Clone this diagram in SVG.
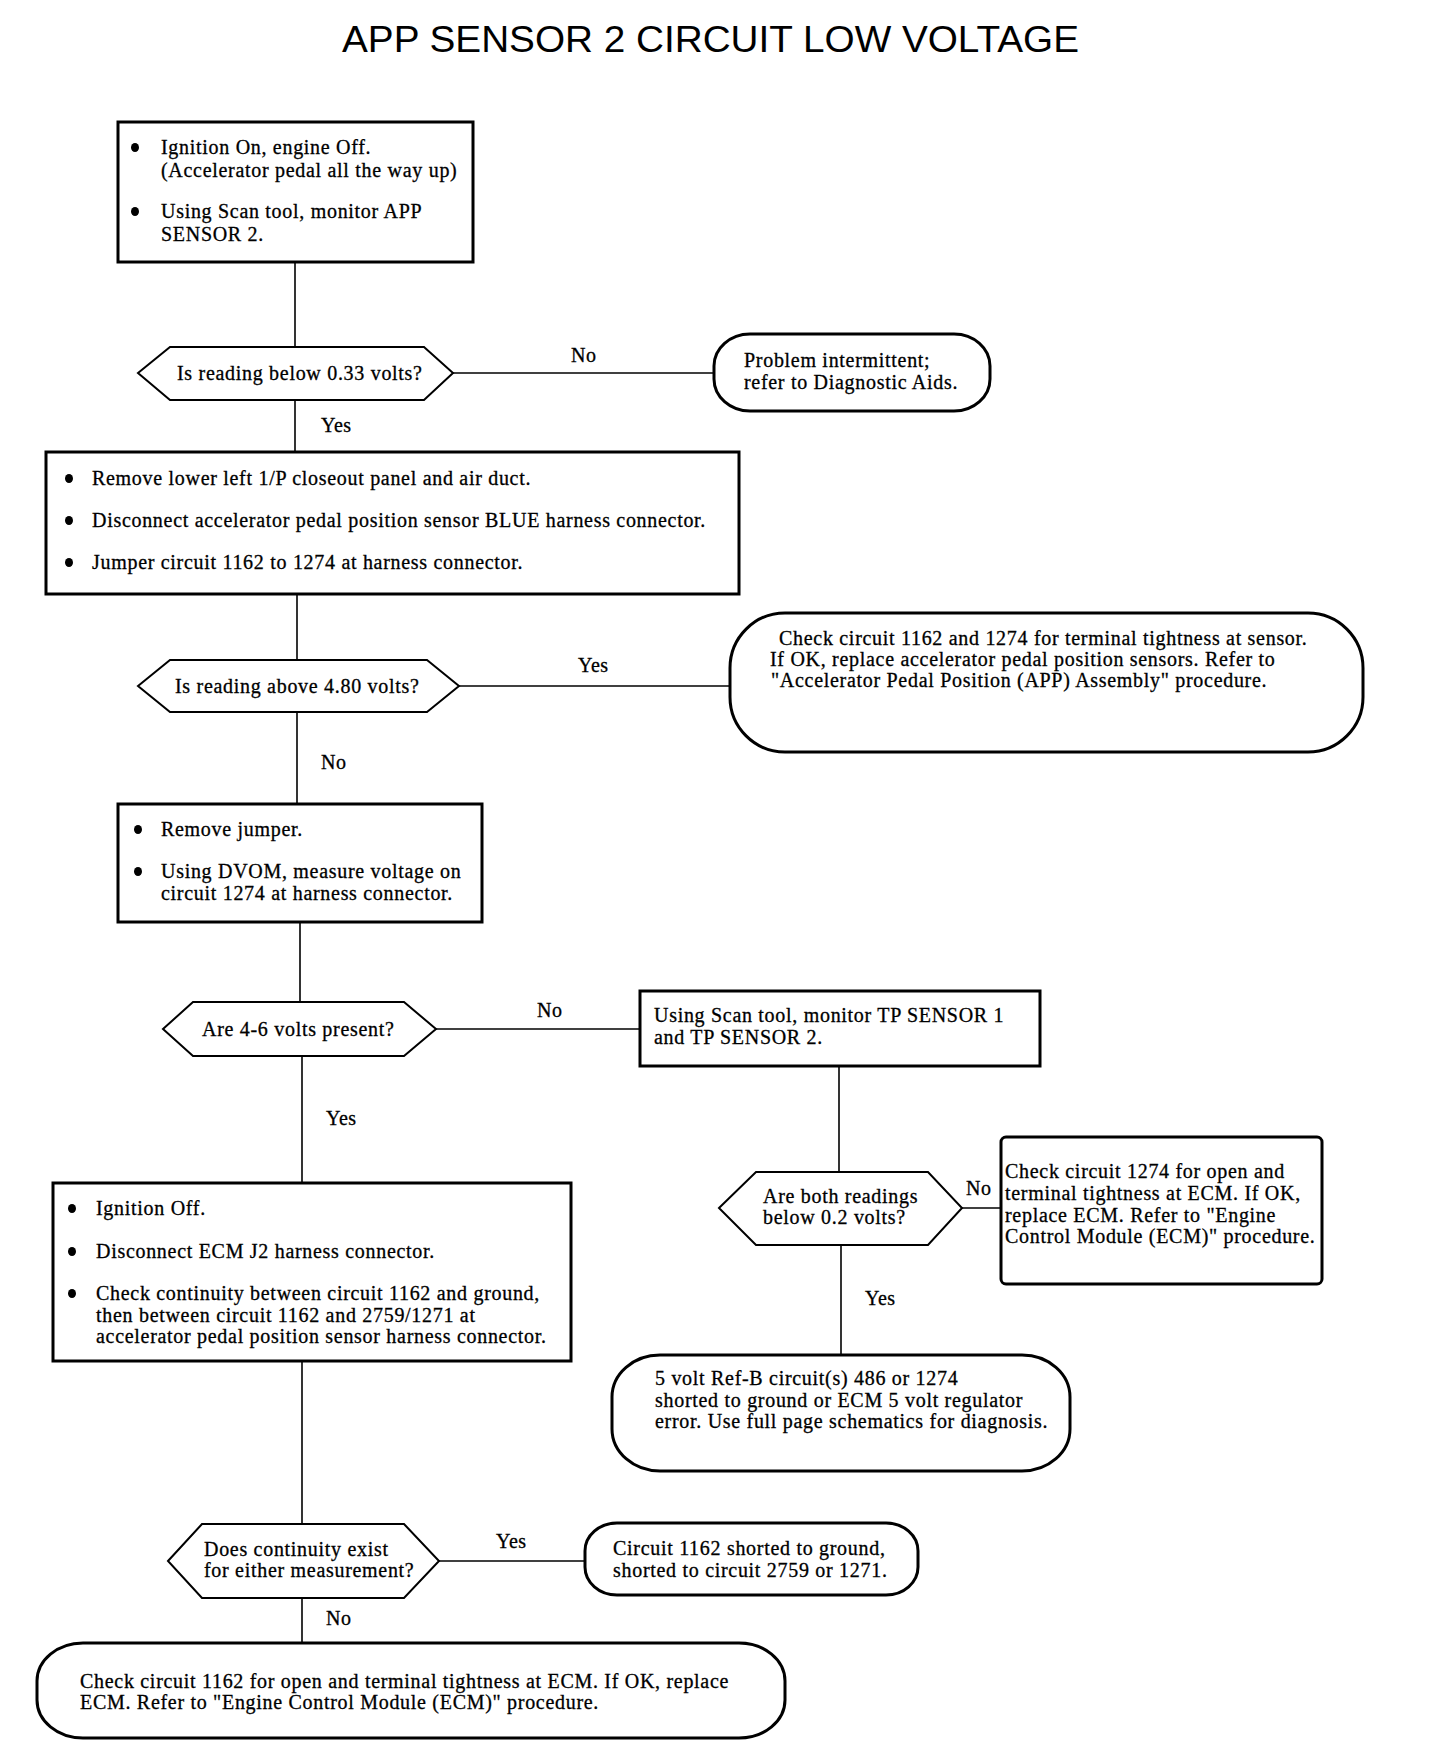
<svg xmlns="http://www.w3.org/2000/svg" width="1440" height="1748" viewBox="0 0 1440 1748">
<style>
  .bg { fill: #ffffff; }
  .box { fill: #ffffff; stroke: #000; stroke-width: 3; }
  .dec { fill: #ffffff; stroke: #000; stroke-width: 2; }
  .term { fill: #ffffff; stroke: #000; stroke-width: 3; }
  .con { fill: none; stroke: #000; stroke-width: 1.6; }
  .bul { fill: #000; }
  .t { font-family: "Liberation Serif", "Times New Roman", serif; font-size: 20px; letter-spacing: 0.7px; fill: #000; stroke: #000; stroke-width: 0.3; }
  .lbl { font-family: "Liberation Serif", "Times New Roman", serif; font-size: 20px; letter-spacing: 0.5px; fill: #000; stroke: #000; stroke-width: 0.3; }
  .title { font-family: "Liberation Sans", Arial, sans-serif; font-size: 36px; fill: #000; }
</style>
<rect class="bg" x="0" y="0" width="1440" height="1748"/>
<text class="title" x="342" y="52" textLength="737" lengthAdjust="spacingAndGlyphs">APP SENSOR 2 CIRCUIT LOW VOLTAGE</text>

<g id="connectors">
  <line class="con" x1="295" y1="262" x2="295" y2="347"/>
  <line class="con" x1="453" y1="373" x2="714" y2="373"/>
  <line class="con" x1="295" y1="400" x2="295" y2="452"/>
  <line class="con" x1="297" y1="594" x2="297" y2="660"/>
  <line class="con" x1="459" y1="686" x2="730" y2="686"/>
  <line class="con" x1="297" y1="712" x2="297" y2="804"/>
  <line class="con" x1="300" y1="922" x2="300" y2="1002"/>
  <line class="con" x1="436" y1="1029" x2="640" y2="1029"/>
  <line class="con" x1="302" y1="1056" x2="302" y2="1183"/>
  <line class="con" x1="839" y1="1066" x2="839" y2="1172"/>
  <line class="con" x1="962" y1="1208" x2="1001" y2="1208"/>
  <line class="con" x1="841" y1="1245" x2="841" y2="1355"/>
  <line class="con" x1="302" y1="1361" x2="302" y2="1524"/>
  <line class="con" x1="439" y1="1561" x2="585" y2="1561"/>
  <line class="con" x1="302" y1="1598" x2="302" y2="1643"/>
  <text class="lbl" x="571" y="362">No</text>
  <text class="lbl" x="321" y="432">Yes</text>
  <text class="lbl" x="578" y="672">Yes</text>
  <text class="lbl" x="321" y="769">No</text>
  <text class="lbl" x="537" y="1017">No</text>
  <text class="lbl" x="326" y="1125">Yes</text>
  <text class="lbl" x="966" y="1195">No</text>
  <text class="lbl" x="865" y="1305">Yes</text>
  <text class="lbl" x="496" y="1548">Yes</text>
  <text class="lbl" x="326" y="1625">No</text>
</g>

<g id="step1">
  <rect class="box" x="118" y="122" width="355" height="140"/>
  <ellipse class="bul" cx="135" cy="147.5" rx="4" ry="4.5"/>
  <text class="t" x="161" y="154">Ignition On, engine Off.</text>
  <text class="t" x="161" y="177">(Accelerator pedal all the way up)</text>
  <ellipse class="bul" cx="135" cy="211.5" rx="4" ry="4.5"/>
  <text class="t" x="161" y="218">Using Scan tool, monitor APP</text>
  <text class="t" x="161" y="241">SENSOR 2.</text>
</g>

<g id="dec1">
  <polygon class="dec" points="138,373 170,347 424,347 453,373 424,400 170,400"/>
  <text class="t" x="177" y="380">Is reading below 0.33 volts?</text>
</g>

<g id="term1">
  <rect class="term" x="714" y="334" width="276" height="77" rx="36" ry="32"/>
  <text class="t" x="744" y="367">Problem intermittent;</text>
  <text class="t" x="744" y="389">refer to Diagnostic Aids.</text>
</g>

<g id="step2">
  <rect class="box" x="46" y="452" width="693" height="142"/>
  <ellipse class="bul" cx="69" cy="478.5" rx="4" ry="4.5"/>
  <text class="t" x="92" y="485">Remove lower left 1/P closeout panel and air duct.</text>
  <ellipse class="bul" cx="69" cy="520.5" rx="4" ry="4.5"/>
  <text class="t" x="92" y="527">Disconnect accelerator pedal position sensor BLUE harness connector.</text>
  <ellipse class="bul" cx="69" cy="562.5" rx="4" ry="4.5"/>
  <text class="t" x="92" y="569">Jumper circuit 1162 to 1274 at harness connector.</text>
</g>

<g id="dec2">
  <polygon class="dec" points="138,686 170,660 427,660 459,686 427,712 170,712"/>
  <text class="t" x="175" y="693">Is reading above 4.80 volts?</text>
</g>

<g id="term2">
  <rect class="term" x="730" y="613" width="633" height="139" rx="55" ry="55"/>
  <text class="t" x="779" y="645">Check circuit 1162 and 1274 for terminal tightness at sensor.</text>
  <text class="t" x="770" y="666">If OK, replace accelerator pedal position sensors. Refer to</text>
  <text class="t" x="771" y="687">"Accelerator Pedal Position (APP) Assembly" procedure.</text>
</g>

<g id="step3">
  <rect class="box" x="118" y="804" width="364" height="118"/>
  <ellipse class="bul" cx="138" cy="829.5" rx="4" ry="4.5"/>
  <text class="t" x="161" y="836">Remove jumper.</text>
  <ellipse class="bul" cx="138" cy="871.5" rx="4" ry="4.5"/>
  <text class="t" x="161" y="878">Using DVOM, measure voltage on</text>
  <text class="t" x="161" y="900">circuit 1274 at harness connector.</text>
</g>

<g id="dec3">
  <polygon class="dec" points="163,1029 193,1002 404,1002 436,1029 404,1056 193,1056"/>
  <text class="t" x="202" y="1036">Are 4-6 volts present?</text>
</g>

<g id="step4">
  <rect class="box" x="640" y="991" width="400" height="75"/>
  <text class="t" x="654" y="1022">Using Scan tool, monitor TP SENSOR 1</text>
  <text class="t" x="654" y="1044">and TP SENSOR 2.</text>
</g>

<g id="dec4">
  <polygon class="dec" points="719,1208 756,1172 928,1172 962,1208 928,1245 756,1245"/>
  <text class="t" x="763" y="1203">Are both readings</text>
  <text class="t" x="763" y="1224">below 0.2 volts?</text>
</g>

<g id="term5a">
  <rect class="box" x="1001" y="1137" width="321" height="147" rx="5" ry="5"/>
  <text class="t" x="1005" y="1178">Check circuit 1274 for open and</text>
  <text class="t" x="1005" y="1200">terminal tightness at ECM. If OK,</text>
  <text class="t" x="1005" y="1222">replace ECM. Refer to "Engine</text>
  <text class="t" x="1005" y="1243">Control Module (ECM)" procedure.</text>
</g>

<g id="term3">
  <rect class="term" x="612" y="1355" width="458" height="116" rx="48" ry="42"/>
  <text class="t" x="655" y="1385">5 volt Ref-B circuit(s) 486 or 1274</text>
  <text class="t" x="655" y="1407">shorted to ground or ECM 5 volt regulator</text>
  <text class="t" x="655" y="1428">error. Use full page schematics for diagnosis.</text>
</g>

<g id="step5">
  <rect class="box" x="53" y="1183" width="518" height="178"/>
  <ellipse class="bul" cx="72" cy="1208.5" rx="4" ry="4.5"/>
  <text class="t" x="96" y="1215">Ignition Off.</text>
  <ellipse class="bul" cx="72" cy="1251.5" rx="4" ry="4.5"/>
  <text class="t" x="96" y="1258">Disconnect ECM J2 harness connector.</text>
  <ellipse class="bul" cx="72" cy="1293.5" rx="4" ry="4.5"/>
  <text class="t" x="96" y="1300">Check continuity between circuit 1162 and ground,</text>
  <text class="t" x="96" y="1322">then between circuit 1162 and 2759/1271 at</text>
  <text class="t" x="96" y="1343">accelerator pedal position sensor harness connector.</text>
</g>

<g id="dec5">
  <polygon class="dec" points="168,1561 202,1524 404,1524 439,1561 404,1598 202,1598"/>
  <text class="t" x="204" y="1556">Does continuity exist</text>
  <text class="t" x="204" y="1577">for either measurement?</text>
</g>

<g id="term4">
  <rect class="term" x="585" y="1523" width="333" height="72" rx="32" ry="28"/>
  <text class="t" x="613" y="1555">Circuit 1162 shorted to ground,</text>
  <text class="t" x="613" y="1577">shorted to circuit 2759 or 1271.</text>
</g>

<g id="term6">
  <rect class="term" x="37" y="1643" width="748" height="95" rx="46" ry="38"/>
  <text class="t" x="80" y="1688">Check circuit 1162 for open and terminal tightness at ECM. If OK, replace</text>
  <text class="t" x="80" y="1709">ECM. Refer to "Engine Control Module (ECM)" procedure.</text>
</g>
</svg>
